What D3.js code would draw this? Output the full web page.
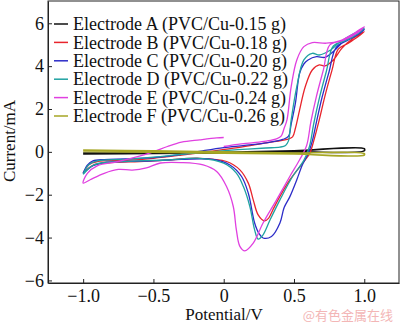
<!DOCTYPE html>
<html>
<head>
<meta charset="utf-8">
<script src="https://cdn.jsdelivr.net/npm/d3@7"></script>
<style>
  body { margin: 0; background: #fff; }
  svg text { font-family: "Liberation Serif", "DejaVu Serif", serif; }
</style>
</head>
<body>
<div id="wrapper"></div>
<script>
// legend names and colours
const names = [
  "Electrode A (PVC/Cu-0.15 g)",
  "Electrode B (PVC/Cu-0.18 g)",
  "Electrode C (PVC/Cu-0.20 g)",
  "Electrode D (PVC/Cu-0.22 g)",
  "Electrode E (PVC/Cu-0.24 g)",
  "Electrode F (PVC/Cu-0.26 g)"
];
const colors = ["#111111", "#e8242c", "#2c2cc8", "#20a2a2", "#e040e0", "#a6a624"];

// [potential V, current mA]
const electrodeA = [[-1.0,-0.06],[-0.5,-0.05],[0.0,-0.02],[0.5,0.05],[1.0,0.15],[1.0,0.05],[0.5,0.0],[0.0,-0.05],[-0.5,-0.08],[-1.0,-0.1]];

const electrodeB = [[-1.0,-1.0],[-0.96,-0.6],[-0.9,-0.45],[-0.7,-0.4],[-0.5,-0.3],[-0.3,-0.15],[-0.1,0.02],[0.1,0.2],[0.3,0.42],[0.45,0.58],
  [0.49,0.7],[0.51,1.1],[0.54,1.96],[0.58,3.04],[0.63,3.82],[0.68,4.06],[0.72,4.01],[0.78,4.29],[0.84,4.83],[0.92,5.3],[1.0,5.61],
  [0.95,5.35],[0.88,5.05],[0.815,4.79],[0.77,3.8],[0.72,2.6],[0.68,1.5],[0.64,0.5],[0.61,-0.1],[0.58,-0.37],[0.47,-1.31],[0.40,-2.08],
  [0.35,-2.7],[0.32,-3.09],[0.29,-3.22],[0.245,-2.94],[0.21,-2.24],[0.175,-1.46],[0.115,-0.84],[0.02,-0.45],[-0.17,-0.3],[-0.4,-0.38],
  [-0.6,-0.45],[-0.8,-0.5],[-0.92,-0.6],[-1.0,-1.0]];

const electrodeC = [[-1.0,-1.0],[-0.97,-0.62],[-0.93,-0.42],[-0.85,-0.36],[-0.7,-0.33],[-0.5,-0.27],[-0.3,-0.12],[-0.15,0.05],[0.0,0.2],
  [0.15,0.3],[0.3,0.42],[0.42,0.58],[0.46,0.72],[0.48,1.3],[0.51,2.27],[0.54,3.67],[0.57,4.1],[0.6,4.29],[0.66,4.44],[0.72,4.41],
  [0.78,4.68],[0.85,5.14],[0.92,5.45],[1.0,5.72],
  [0.95,5.45],[0.88,5.2],[0.8,4.88],[0.75,3.75],[0.7,2.55],[0.66,1.4],[0.63,0.5],[0.6,-0.1],[0.56,-0.6],[0.52,-1.3],[0.47,-2.1],
  [0.43,-2.6],[0.40,-3.32],[0.34,-3.95],[0.28,-4.02],[0.25,-3.8],[0.22,-3.32],[0.175,-1.93],[0.127,-1.15],[0.044,-0.61],[-0.075,-0.35],
  [-0.3,-0.35],[-0.5,-0.42],[-0.7,-0.45],[-0.85,-0.5],[-0.93,-0.65],[-1.0,-1.0]];

const electrodeD = [[-1.0,-1.05],[-0.96,-0.6],[-0.9,-0.42],[-0.7,-0.35],[-0.5,-0.25],[-0.3,-0.12],[-0.1,0.0],[0.1,0.1],[0.3,0.18],
  [0.4,0.22],[0.44,0.3],[0.46,0.5],[0.48,1.49],[0.52,3.04],[0.57,4.29],[0.63,4.6],[0.68,4.52],[0.76,4.75],[0.83,5.14],[0.92,5.5],[1.0,5.77],
  [0.95,5.5],[0.87,5.2],[0.78,4.94],[0.73,3.75],[0.68,2.5],[0.64,1.3],[0.61,0.25],[0.57,-0.4],[0.49,-1.15],[0.40,-2.24],[0.33,-3.17],
  [0.28,-3.87],[0.245,-4.07],[0.22,-3.64],[0.186,-2.55],[0.14,-1.62],[0.09,-0.99],[0.0,-0.53],[-0.17,-0.3],[-0.4,-0.38],[-0.6,-0.42],
  [-0.8,-0.48],[-0.92,-0.6],[-1.0,-1.05]];

const electrodeE = [[0.0,0.25],[0.1,0.35],[0.2,0.42],[0.3,0.5],[0.38,0.62],[0.41,0.75],[0.43,1.1],[0.45,1.49],[0.48,3.04],[0.52,4.29],
  [0.57,4.91],[0.63,5.1],[0.73,5.07],[0.83,5.19],[0.92,5.5],[1.0,5.84],
  [0.95,5.55],[0.85,5.2],[0.755,4.99],[0.71,3.85],[0.66,2.6],[0.62,1.4],[0.59,0.3],[0.54,-0.37],[0.47,-1.15],[0.376,-2.24],[0.28,-3.32],
  [0.21,-4.26],[0.15,-4.62],[0.115,-4.41],[0.09,-3.64],[0.068,-2.55],[0.02,-1.62],[-0.05,-0.92],[-0.146,-0.61],[-0.3,-0.5],[-0.45,-0.52],
  [-0.55,-0.75],[-0.65,-0.85],[-0.75,-0.82],[-0.85,-1.0],[-0.95,-1.3],[-1.0,-1.46],
  [-0.97,-1.0],[-0.9,-0.65],[-0.75,-0.45],[-0.6,-0.2],[-0.5,0.0],[-0.4,0.25],[-0.3,0.45],[-0.17,0.56],[-0.05,0.65],[0.0,0.67]];

const electrodeF = [[-1.0,0.08],[-0.5,0.05],[0.0,0.0],[0.5,-0.05],[1.0,-0.08],[1.0,-0.15],[0.5,-0.1],[0.0,-0.06],[-0.5,-0.02],[-1.0,0.02]];

const series = [electrodeA, electrodeB, electrodeC, electrodeD, electrodeE, electrodeF];

const xTicks = [-1.0, -0.5, 0, 0.5, 1.0];
const yTicks = [-6, -4, -2, 0, 2, 4, 6];

const dimension = {
  width: 400,
  height: 327,
  margin: { top: 1, left: 48, bottom: 44, right: 1 }
};
dimension.boundedWidth = dimension.width - dimension.margin.left - dimension.margin.right;
dimension.boundedHeight = dimension.height - dimension.margin.top - dimension.margin.bottom;

const svg = d3.select("#wrapper").append("svg")
  .attr("width", dimension.width)
  .attr("height", dimension.height);

const bounded = svg.append("g")
  .attr("transform", `translate(${dimension.margin.left},${dimension.margin.top})`);

const xScaler = d3.scaleLinear().domain([-1.25, 1.247]).range([0, dimension.boundedWidth]);
const yScaler = d3.scaleLinear().domain([-6.12, 7.04]).range([dimension.boundedHeight, 0]);

const lineGen = d3.line()
  .x(d => xScaler(d[0]))
  .y(d => yScaler(d[1]))
  .curve(d3.curveCatmullRom.alpha(0.5));

// curves
series.forEach((s, i) => {
  bounded.append("path")
    .attr("d", lineGen(s))
    .attr("fill", "none")
    .attr("stroke", colors[i])
    .attr("stroke-width", i === 0 || i === 5 ? 1.6 : 1.3);
});

// frame
bounded.append("rect")
  .attr("width", dimension.boundedWidth)
  .attr("height", dimension.boundedHeight)
  .attr("fill", "none")
  .attr("stroke", "#222")
  .attr("stroke-width", 1);

const fmtX = d => d === 0 ? "0" : d3.format(".1f")(d);

const xAxis = d3.axisBottom(xScaler).tickValues(xTicks).tickFormat(fmtX)
  .tickSizeInner(-4).tickSizeOuter(0).tickPadding(6);
const yAxis = d3.axisLeft(yScaler).tickValues(yTicks).tickFormat(d3.format("d"))
  .tickSizeInner(-4).tickSizeOuter(0).tickPadding(4);

const gx = bounded.append("g")
  .attr("transform", `translate(0,${dimension.boundedHeight})`)
  .call(xAxis);
const gy = bounded.append("g").call(yAxis);

[gx, gy].forEach(g => {
  g.attr("font-family", null);
  g.select(".domain").attr("stroke", "#222");
  g.selectAll(".tick line").attr("stroke", "#222");
  g.selectAll(".tick text")
    .attr("fill", "#111")
    .style("font-family", "'Liberation Serif', serif")
    .style("font-size", "18px");
});

// legend
const legend = bounded.append("g");
names.forEach((n, i) => {
  const y = 23 + i * 18.4;
  legend.append("line")
    .attr("x1", 6).attr("x2", 20)
    .attr("y1", y).attr("y2", y)
    .attr("stroke", colors[i])
    .attr("stroke-width", 1.5);
  legend.append("text")
    .attr("x", 25).attr("y", y)
    .attr("dy", "0.34em")
    .style("font-size", "18px")
    .attr("fill", "#111")
    .text(n);
});

// axis titles
svg.append("text")
  .attr("transform", "translate(15,141) rotate(-90)")
  .attr("text-anchor", "middle")
  .style("font-size", "17px")
  .attr("fill", "#111")
  .text("Current/mA");

svg.append("text")
  .attr("x", 224).attr("y", 320)
  .attr("text-anchor", "middle")
  .style("font-size", "17px")
  .attr("fill", "#111")
  .text("Potential/V");

// watermark
svg.append("text")
  .attr("x", 393).attr("y", 320)
  .attr("text-anchor", "end")
  .style("font-family", "'Noto Sans CJK SC', sans-serif")
  .style("font-size", "13px")
  .attr("fill", "#f3b6b6")
  .text("@有色金属在线");
</script>
</body>
</html>
